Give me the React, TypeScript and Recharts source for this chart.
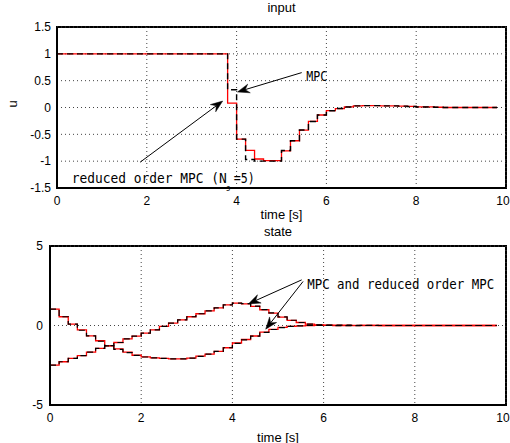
import React from 'react';
import {
  LineChart, Line, XAxis, YAxis, CartesianGrid, ReferenceLine, ReferenceDot,
} from 'recharts';

const time = [
  0, 0.2, 0.4, 0.6, 0.8, 1.0, 1.2, 1.4, 1.6, 1.8,
  2.0, 2.2, 2.4, 2.6, 2.8, 3.0, 3.2, 3.4, 3.6, 3.8,
  4.0, 4.2, 4.4, 4.6, 4.8, 5.0, 5.2, 5.4, 5.6, 5.8,
  6.0, 6.2, 6.4, 6.6, 6.8, 7.0, 7.2, 7.4, 7.6, 7.8,
  8.0, 8.2, 8.4, 8.6, 8.8, 9.0, 9.2, 9.4, 9.6, 9.8,
];

// input u: full MPC (black dashed) and reduced order MPC (red)
const uMpc = [
  1, 1, 1, 1, 1, 1, 1, 1, 1, 1,
  1, 1, 1, 1, 1, 1, 1, 1, 1, 0.33,
  -0.59, -0.97, -1.0, -1.0, -1.0, -0.8, -0.62, -0.42, -0.26, -0.14,
  -0.06, -0.02, 0.01, 0.03, 0.035, 0.035, 0.03, 0.03, 0.025, 0.02,
  0.01, 0.01, 0.005, 0, 0, 0, 0, 0, 0, 0,
];
const uReduced = [
  1, 1, 1, 1, 1, 1, 1, 1, 1, 1,
  1, 1, 1, 1, 1, 1, 1, 1, 1, 0.08,
  -0.59, -0.8, -0.96, -0.99, -0.99, -0.81, -0.62, -0.42, -0.26, -0.14,
  -0.06, -0.02, 0.01, 0.03, 0.035, 0.035, 0.03, 0.03, 0.025, 0.02,
  0.01, 0.01, 0.005, 0, 0, 0, 0, 0, 0, 0,
];

// states
const x1Mpc = [
  1.03, 0.55, 0.09, -0.3, -0.65, -0.99, -1.28, -1.5, -1.7, -1.88,
  -1.98, -2.04, -2.07, -2.1, -2.1, -2.05, -1.94, -1.8, -1.63, -1.4,
  -1.12, -0.9, -0.67, -0.43, -0.25, -0.13, -0.06, -0.02, 0.0, 0.01,
  0.02, 0.02, 0.02, 0.01, 0.01, 0.01, 0, 0, 0, 0,
  0, 0, 0, 0, 0, 0, 0, 0, 0, 0,
];
const x1Reduced = [
  1.03, 0.55, 0.09, -0.27, -0.65, -0.96, -1.28, -1.47, -1.68, -1.87,
  -1.97, -2.03, -2.07, -2.1, -2.1, -2.05, -1.93, -1.8, -1.63, -1.4,
  -1.1, -0.88, -0.66, -0.42, -0.24, -0.12, -0.06, -0.02, 0.0, 0.01,
  0.02, 0.02, 0.02, 0.01, 0.01, 0.01, 0, 0, 0, 0,
  0, 0, 0, 0, 0, 0, 0, 0, 0, 0,
];
const x2Mpc = [
  -2.49, -2.28, -2.07, -1.89, -1.68, -1.44, -1.26, -1.07, -0.84, -0.67,
  -0.48, -0.27, -0.06, 0.15, 0.36, 0.55, 0.74, 0.92, 1.11, 1.3,
  1.41, 1.38, 1.22, 1.0, 0.79, 0.54, 0.33, 0.19, 0.09, 0.04,
  0.01, -0.01, -0.01, -0.01, 0, 0, 0, 0, 0, 0,
  0, 0, 0, 0, 0, 0, 0, 0, 0, 0,
];
const x2Reduced = [
  -2.49, -2.28, -2.07, -1.89, -1.68, -1.44, -1.26, -1.07, -0.84, -0.67,
  -0.48, -0.27, -0.06, 0.15, 0.36, 0.55, 0.74, 0.92, 1.11, 1.3,
  1.41, 1.36, 1.2, 0.99, 0.78, 0.53, 0.32, 0.19, 0.09, 0.04,
  0.01, -0.01, -0.01, -0.01, 0, 0, 0, 0, 0, 0,
  0, 0, 0, 0, 0, 0, 0, 0, 0, 0,
];

const xTicks = [0, 2, 4, 6, 8, 10];
const uTicks = [-1.5, -1, -0.5, 0, 0.5, 1, 1.5];
const stateTicks = [-5, 0, 5];

const inputData = time.map((t, i) => ({ t, mpc: uMpc[i], red: uReduced[i] }));
const stateData = time.map((t, i) => ({
  t, x1m: x1Mpc[i], x1r: x1Reduced[i], x2m: x2Mpc[i], x2r: x2Reduced[i],
}));

const tickStyle = { fontSize: 12, fill: '#000', fontFamily: 'Liberation Sans' };
const annFont = 'DejaVu Sans Mono';
const frameLine = { stroke: '#000', strokeWidth: 2 };

function XTick(props: any) {
  const { x, y, payload } = props;
  const cx = Math.min(x, 503);
  return (
    <text x={cx} y={y} dy="0.71em" textAnchor="middle" fontSize={12} fontFamily="Liberation Sans" fill="#000">
      {payload.value}
    </text>
  );
}

function Arrow(props: any) {
  const { x1, y1, x2, y2 } = props;
  const dx = x2 - x1;
  const dy = y2 - y1;
  const len = Math.hypot(dx, dy) || 1;
  const ux = dx / len;
  const uy = dy / len;
  const px = -uy;
  const py = ux;
  const L = 12;
  const W = 4.5;
  const N = 8;
  const bx = x2 - ux * L;
  const by = y2 - uy * L;
  const nx = x2 - ux * N;
  const ny = y2 - uy * N;
  const pts = [
    [x2, y2],
    [bx + px * W, by + py * W],
    [nx, ny],
    [bx - px * W, by - py * W],
  ].map((p) => p.join(',')).join(' ');
  return (
    <g>
      <line x1={x1} y1={y1} x2={nx} y2={ny} stroke="#000" strokeWidth={1} />
      <polygon points={pts} fill="#000" stroke="#000" strokeWidth={0.5} />
    </g>
  );
}

function ReducedLabel(props: any) {
  const { cx, cy } = props;
  return (
    <g fontFamily={annFont} fill="#000">
      <text x={cx} y={cy + 5} fontSize={14} textLength={155} lengthAdjust="spacingAndGlyphs">reduced order MPC (N</text>
      <text x={cx + 154} y={cy + 13} fontSize={8}>s</text>
      <text x={cx + 162} y={cy + 5} fontSize={14} textLength={21} lengthAdjust="spacingAndGlyphs">=5)</text>
    </g>
  );
}

function MpcLabel(props: any) {
  const { cx, cy } = props;
  return (
    <text x={cx} y={cy + 5} fontSize={14} fontFamily={annFont} fill="#000" textLength={21} lengthAdjust="spacingAndGlyphs">MPC</text>
  );
}

function BothLabel(props: any) {
  const { cx, cy } = props;
  return (
    <text x={cx} y={cy + 5} fontSize={14} fontFamily={annFont} fill="#000" textLength={187} lengthAdjust="spacingAndGlyphs">MPC and reduced order MPC</text>
  );
}

// Plot frame drawn as a filled black panel with a white inner panel, behind the chart svg.
function FramePanel(props: { left: number; top: number; width: number; height: number }) {
  const { left, top, width, height } = props;
  return (
    <div style={{ position: 'absolute', left, top, width, height, background: '#000' }}>
      <div style={{ position: 'absolute', left: 2, top: 2, width: width - 4, height: height - 4, background: '#fff' }} />
    </div>
  );
}

export default function App() {
  return (
    <div style={{ position: 'absolute', left: 0, top: 0, width: 510, height: 443, background: '#fff', fontFamily: 'Liberation Sans' }}>
      <FramePanel left={56} top={26} width={451} height={163} />
      <FramePanel left={49} top={245} width={458} height={161} />

      <div style={{ position: 'absolute', left: 57, top: 1, width: 449, textAlign: 'center', fontSize: 13, lineHeight: '14px' }}>input</div>
      <div style={{ position: 'absolute', left: 50, top: 225, width: 456, textAlign: 'center', fontSize: 13, lineHeight: '14px', zIndex: 2 }}>state</div>

      <div style={{ position: 'absolute', left: 0, top: 0 }}>
        <LineChart width={510} height={222} data={inputData} margin={{ top: 27, right: 4, bottom: 0, left: 0 }}>
          <CartesianGrid stroke="#444" strokeDasharray="1 3" strokeWidth={1} />
          <XAxis
            dataKey="t" type="number" domain={[0, 10]} ticks={xTicks} height={34}
            tickLine={false} axisLine={frameLine} tick={<XTick />} interval={0}
            label={{ value: 'time [s]', position: 'insideBottom', offset: 3, fontSize: 13, fill: '#000' }}
          />
          <YAxis
            type="number" domain={[-1.5, 1.5]} ticks={uTicks} width={57}
            tickLine={false} axisLine={frameLine} tick={tickStyle} tickMargin={0} interval={0}
            label={{ value: 'u', angle: -90, position: 'insideLeft', offset: 12, fontSize: 13, fill: '#000' }}
          />
          <Line type="stepAfter" dataKey="red" stroke="#ff0000" strokeWidth={1.3} dot={false} isAnimationActive={false} />
          <Line type="stepAfter" dataKey="mpc" stroke="#000" strokeWidth={1.4} strokeDasharray="6 4" dot={false} isAnimationActive={false} />
          <ReferenceLine segment={[{ x: 1.85, y: -1.02 }, { x: 3.69, y: 0.12 }]} shape={Arrow} />
          <ReferenceLine segment={[{ x: 5.45, y: 0.65 }, { x: 4.02, y: 0.29 }]} shape={Arrow} />
          <ReferenceDot x={0.33} y={-1.32} r={0} shape={ReducedLabel} />
          <ReferenceDot x={5.55} y={0.59} r={0} shape={MpcLabel} />
        </LineChart>
      </div>

      <div style={{ position: 'absolute', left: 0, top: 222 }}>
        <LineChart width={510} height={221} data={stateData} margin={{ top: 24, right: 4, bottom: 0, left: 0 }}>
          <CartesianGrid stroke="#444" strokeDasharray="1 3" strokeWidth={1} />
          <XAxis
            dataKey="t" type="number" domain={[0, 10]} ticks={xTicks} height={38}
            tickLine={false} axisLine={frameLine} tick={<XTick />} interval={0}
            label={{ value: 'time [s]', position: 'insideBottom', offset: 1, fontSize: 13, fill: '#000' }}
          />
          <YAxis
            type="number" domain={[-5, 5]} ticks={stateTicks} width={50}
            tickLine={false} axisLine={frameLine} tick={tickStyle} tickMargin={1} interval={0}
          />
          <Line type="stepAfter" dataKey="x1r" stroke="#ff0000" strokeWidth={1.3} dot={false} isAnimationActive={false} />
          <Line type="stepAfter" dataKey="x2r" stroke="#ff0000" strokeWidth={1.3} dot={false} isAnimationActive={false} />
          <Line type="stepAfter" dataKey="x1m" stroke="#000" strokeWidth={1.2} strokeDasharray="6 4" dot={false} isAnimationActive={false} />
          <Line type="stepAfter" dataKey="x2m" stroke="#000" strokeWidth={1.2} strokeDasharray="6 4" dot={false} isAnimationActive={false} />
          <ReferenceLine segment={[{ x: 5.52, y: 2.87 }, { x: 4.35, y: 1.36 }]} shape={Arrow} />
          <ReferenceLine segment={[{ x: 5.55, y: 2.77 }, { x: 4.73, y: -0.23 }]} shape={Arrow} />
          <ReferenceDot x={5.64} y={2.62} r={0} shape={BothLabel} />
        </LineChart>
      </div>
    </div>
  );
}
